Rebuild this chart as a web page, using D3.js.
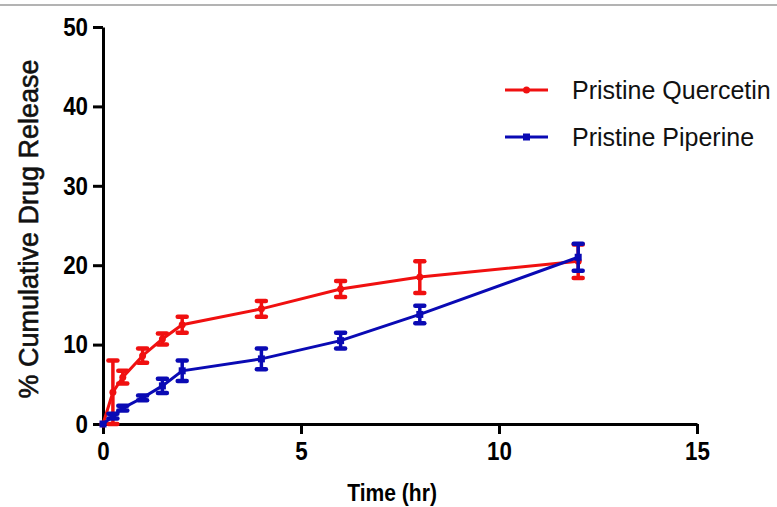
<!DOCTYPE html>
<html>
<head>
<meta charset="utf-8">
<script src="https://cdn.jsdelivr.net/npm/d3@7"></script>
<style>
  html, body { margin: 0; padding: 0; background: #fff; }
  svg { display: block; }
</style>
</head>
<body>
<script>
// Sampling times (hr)
const time = [0, 0.25, 0.5, 1, 1.5, 2, 4, 6, 8, 12];
// Mean % cumulative release and error (SD)
const quercetin    = [0, 4.0, 5.9, 8.6, 10.7, 12.5, 14.5, 17.0, 18.5, 20.5];
const quercetinErr = [0, 4.0, 0.8, 0.9, 0.7, 1.0, 1.0, 1.0, 2.0, 2.1];
const piperine     = [0, 1.0, 2.0, 3.3, 4.8, 6.7, 8.2, 10.5, 13.8, 21.0];
const piperineErr  = [0, 0.3, 0.3, 0.3, 0.9, 1.3, 1.3, 1.0, 1.1, 1.7];
const seriesNames  = ["Pristine Quercetin", "Pristine Piperine"];
const xTicks = [0, 5, 10, 15];
const yTicks = [0, 10, 20, 30, 40, 50];

const W = 777, H = 507;
const svg = d3.select("body").append("svg").attr("width", W).attr("height", H);

// thin rule along the top edge
svg.append("line").attr("x1", 0).attr("x2", W).attr("y1", 5).attr("y2", 5)
  .attr("stroke", "#9a9a9a").attr("stroke-width", 1.5);

const x = d3.scaleLinear().domain([0, 15]).range([103, 697]);
const y = d3.scaleLinear().domain([0, 50]).range([424, 27]);

const font = "'Liberation Sans', Arial, sans-serif";
const squeeze = 0.86; // condensed look for axis lettering

// axes
const xAxis = svg.append("g").attr("transform", `translate(0,${y(0)})`)
  .call(d3.axisBottom(x).tickValues(xTicks).tickSize(10).tickPadding(8).tickSizeOuter(0).tickFormat(d3.format("d")));
const yAxis = svg.append("g").attr("transform", `translate(${x(0)},0)`)
  .call(d3.axisLeft(y).tickValues(yTicks).tickSize(10).tickPadding(5).tickSizeOuter(0).tickFormat(d3.format("d")));
[xAxis, yAxis].forEach(g => {
  g.select(".domain").attr("stroke", "#000").attr("stroke-width", 3);
  g.selectAll(".tick line").attr("stroke", "#000").attr("stroke-width", 3);
  g.selectAll(".tick text").attr("fill", "#000")
    .style("font-family", font).style("font-weight", "bold").style("font-size", "26px");
});
xAxis.selectAll(".tick text").attr("transform", `scale(${squeeze},1)`);
yAxis.selectAll(".tick text").attr("x", -15 / squeeze).attr("transform", `scale(${squeeze},1)`);

// axis titles
svg.append("text").attr("transform", `translate(${x(7.3)},501) scale(${squeeze},1)`).attr("text-anchor", "middle")
  .style("font-family", font).style("font-weight", "bold").style("font-size", "24.5px")
  .text("Time (hr)");
svg.append("text").attr("transform", `translate(38,229) rotate(-90)`).attr("text-anchor", "middle")
  .style("font-family", font).style("font-size", "27px")
  .attr("fill", "#111").attr("stroke", "#111").attr("stroke-width", 0.6)
  .text("% Cumulative Drug Release");

const series = [
  { name: seriesNames[0], mean: quercetin, err: quercetinErr, color: "#f01010", marker: "circle" },
  { name: seriesNames[1], mean: piperine,  err: piperineErr,  color: "#0a0ab4", marker: "square" }
];

const line = d3.line().x(d => x(d.t)).y(d => y(d.v));

series.forEach(s => {
  const pts = time.map((t, i) => ({ t, v: s.mean[i], e: s.err[i] }));
  const g = svg.append("g");
  // error bars
  const eb = g.selectAll(".eb").data(pts.filter(p => p.e > 0)).join("g");
  eb.append("line").attr("x1", p => x(p.t)).attr("x2", p => x(p.t))
    .attr("y1", p => y(p.v - p.e)).attr("y2", p => y(p.v + p.e))
    .attr("stroke", s.color).attr("stroke-width", 3.5);
  [-1, 1].forEach(sg => {
    eb.append("line").attr("x1", p => x(p.t) - 4.5).attr("x2", p => x(p.t) + 4.5)
      .attr("y1", p => y(p.v + sg * p.e)).attr("y2", p => y(p.v + sg * p.e))
      .attr("stroke", s.color).attr("stroke-width", 4.5).attr("stroke-linecap", "round");
  });
  // connecting line
  g.append("path").datum(pts).attr("d", line).attr("fill", "none")
    .attr("stroke", s.color).attr("stroke-width", 3);
  // markers
  if (s.marker === "circle") {
    g.selectAll(".m").data(pts).join("circle").attr("cx", p => x(p.t)).attr("cy", p => y(p.v))
      .attr("r", 3.5).attr("fill", s.color);
  } else {
    g.selectAll(".m").data(pts).join("rect").attr("x", p => x(p.t) - 3.5).attr("y", p => y(p.v) - 3.5)
      .attr("width", 7).attr("height", 7).attr("fill", s.color);
  }
});

// legend
const legend = svg.append("g");
series.forEach((s, i) => {
  const ly = 90 + i * 47;
  legend.append("line").attr("x1", 505).attr("x2", 548).attr("y1", ly).attr("y2", ly)
    .attr("stroke", s.color).attr("stroke-width", 3);
  if (s.marker === "circle") {
    legend.append("circle").attr("cx", 526.5).attr("cy", ly).attr("r", 3.5).attr("fill", s.color);
  } else {
    legend.append("rect").attr("x", 523).attr("y", ly - 3.5).attr("width", 7).attr("height", 7).attr("fill", s.color);
  }
  legend.append("text").attr("x", 572).attr("y", ly + 9)
    .style("font-family", font).style("font-size", "25px").attr("fill", "#111")
    .text(s.name);
});
</script>
</body>
</html>
